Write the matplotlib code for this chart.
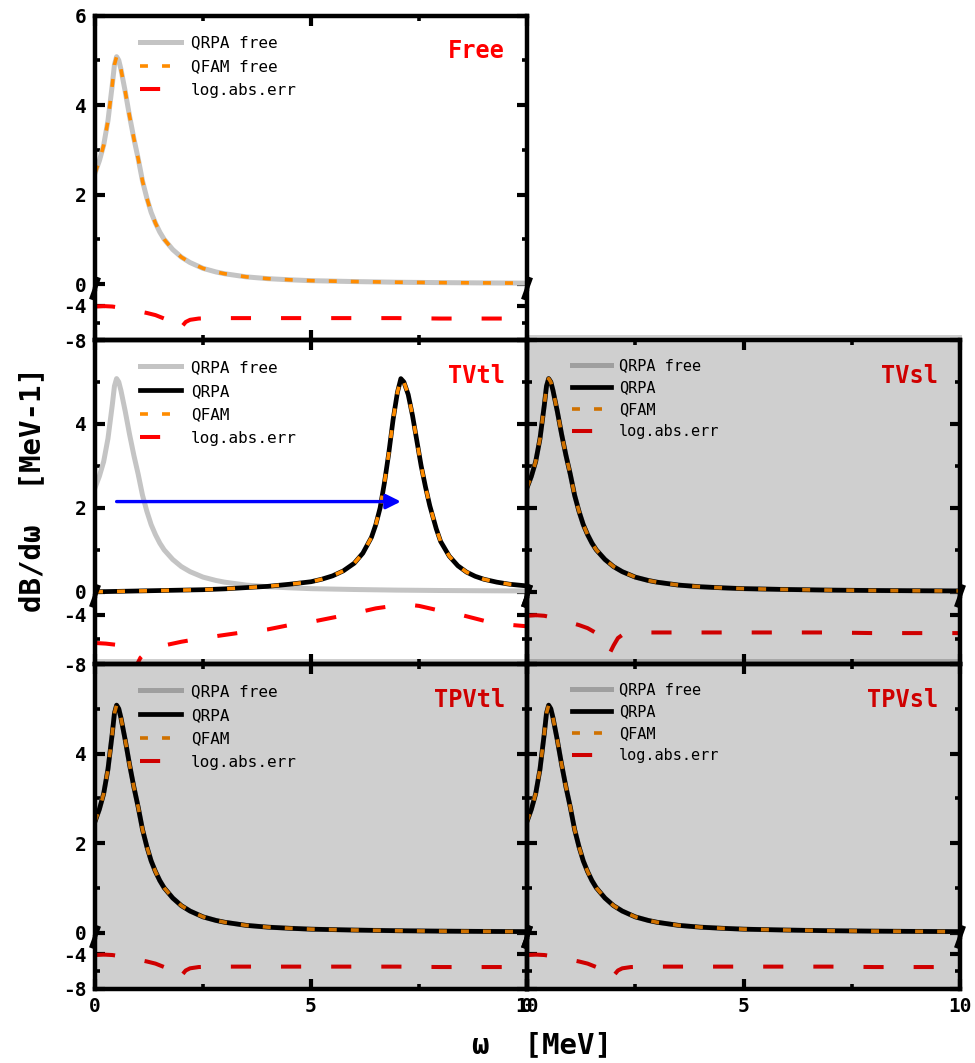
import matplotlib
matplotlib.use("Agg")
import matplotlib.pyplot as plt
from matplotlib.lines import Line2D
from matplotlib.patches import Rectangle

plt.rcParams["axes.unicode_minus"] = False
MONO = "DejaVu Sans Mono"

# ---------------- data ----------------
omega_free = [0.0, 0.1, 0.2, 0.3, 0.4, 0.45, 0.5, 0.55, 0.6, 0.7, 0.8, 0.9, 1.0,
              1.1, 1.2, 1.3, 1.4, 1.5, 1.6, 1.8, 2.0, 2.2, 2.5, 2.8, 3.0, 3.5,
              4.0, 4.5, 5.0, 6.0, 7.0, 8.0, 9.0, 10.0]
strength_free = [2.48, 2.75, 3.1, 3.65, 4.45, 4.9, 5.08, 5.0, 4.8, 4.3, 3.75, 3.25,
                 2.8, 2.3, 1.92, 1.6, 1.36, 1.16, 1.0, 0.77, 0.6, 0.48, 0.35, 0.27,
                 0.23, 0.16, 0.12, 0.095, 0.075, 0.055, 0.04, 0.031, 0.025, 0.02]

omega_tvtl = [0.0, 1.0, 2.0, 2.5, 3.0, 3.5, 4.0, 4.5, 5.0, 5.25, 5.5, 5.75, 6.0, 6.2,
              6.4, 6.5, 6.6, 6.7, 6.8, 6.9, 7.0, 7.08, 7.15, 7.25, 7.35, 7.45, 7.55,
              7.65, 7.75, 7.9, 8.0, 8.2, 8.4, 8.6, 8.8, 9.0, 9.3, 9.6, 10.0]
strength_tvtl = [0.0, 0.02, 0.04, 0.05, 0.07, 0.1, 0.13, 0.18, 0.24, 0.3, 0.38, 0.5,
                 0.68, 0.92, 1.3, 1.6, 2.0, 2.6, 3.3, 4.1, 4.75, 5.08, 5.0, 4.7, 4.2,
                 3.6, 3.0, 2.5, 2.05, 1.5, 1.2, 0.85, 0.62, 0.47, 0.37, 0.3, 0.23,
                 0.18, 0.14]

omega_err = [0.0, 0.2, 0.4, 0.6, 0.8, 1.0, 1.2, 1.4, 1.6, 1.8, 1.9, 2.0, 2.1, 2.2,
             2.4, 2.7, 3.0, 4.0, 5.0, 6.0, 7.0, 8.0, 9.0, 10.0]
logerr_free = [-4.1, -4.05, -4.1, -4.25, -4.45, -4.65, -4.85, -5.1, -5.5, -6.3,
               -7.2, -6.5, -5.9, -5.65, -5.5, -5.45, -5.45, -5.45, -5.45, -5.45,
               -5.45, -5.5, -5.5, -5.5]

omega_err_tvtl = [0.0, 0.25, 0.5, 0.7, 0.85, 0.95, 1.05, 1.2, 1.35, 1.6, 2.0, 2.5,
                  3.0, 3.5, 4.0, 4.5, 5.0, 5.5, 6.0, 6.5, 7.0, 7.25, 7.5, 8.0, 8.5,
                  9.0, 9.5, 10.0]
logerr_tvtl = [-6.3, -6.35, -6.45, -7.3, -8.6, -8.2, -7.5, -7.0, -6.7, -6.5, -6.2,
               -5.9, -5.65, -5.4, -5.2, -4.85, -4.6, -4.25, -3.9, -3.5, -3.25, -3.2,
               -3.3, -3.7, -4.05, -4.5, -4.8, -4.95]

panel_names = ["Free", "TVtl", "TVsl", "TPVtl", "TPVsl"]

# ---------------- layout (pixels) ----------------
W, H = 975, 1063
fig = plt.figure(figsize=(W / 100, H / 100), dpi=100)

COLS = {0: (95, 527), 1: (527, 960)}
# rows: (top, break, bottom, lower ylim top)
ROWS = {0: (15.5, 288.5, 340, -2.0), 1: (340, 596, 664, -2.5), 2: (664, 937, 988.5, -2.0)}

C_FREE = "#c4c4c4"
C_QFAM = "#ff8c00"
C_ERR = "#ff0000"
LW_SPINE = 3.2


def fig_rect(l, t, r, b):
    return [l / W, 1 - b / H, (r - l) / W, (b - t) / H]


def style(ax, top_ticks, bottom_ticks, xlabels, ylabels):
    for s in ax.spines.values():
        s.set_linewidth(LW_SPINE)
    ax.tick_params(which="both", direction="in", left=True, right=True,
                   top=top_ticks, bottom=bottom_ticks, labelbottom=xlabels,
                   labelleft=ylabels)
    ax.tick_params(which="major", length=7, width=3, pad=6)
    ax.tick_params(which="minor", length=3.5, width=2.6)
    ax.set_xlim(0, 10)
    ax.set_xticks([0, 5, 10])
    ax.set_xticks([2.5, 7.5], minor=True)
    for lab in ax.get_xticklabels() + ax.get_yticklabels():
        lab.set_fontfamily(MONO)
        lab.set_fontweight("bold")
        lab.set_fontsize(14)


def break_marks(l, r, yb):
    for x in (l, r):
        fig.add_artist(Line2D([(x + 4) / W, (x - 4) / W],
                              [1 - (yb - 11) / H, 1 - (yb + 11) / H],
                              transform=fig.transFigure, color="black",
                              lw=3, solid_capstyle="butt", zorder=5))


def panel(col, row, name, shaded):
    l, r = COLS[col]
    t, yb, b, lo_top = ROWS[row]
    ax_u = fig.add_axes(fig_rect(l, t, r, yb))
    ax_l = fig.add_axes(fig_rect(l, yb, r, b))
    ax_u.set_facecolor("none")
    ax_l.set_facecolor("none")
    ax_u.spines["bottom"].set_visible(False)
    ax_l.spines["top"].set_visible(False)

    ax_u.set_ylim(-0.1, 6)
    ax_u.set_yticks([0, 2, 4, 6])
    ax_u.set_yticks([1, 3, 5], minor=True)
    ax_u.set_yticklabels(["0", "2", "4", "6" if row == 0 else ""])
    ax_l.set_ylim(-8, lo_top)
    ax_l.set_yticks([-8, -4])
    ax_l.set_yticks([-6], minor=True)

    style(ax_u, True, False, False, col == 0)
    style(ax_l, False, True, row == 2, col == 0)

    handles = []
    if name == "Free":
        h1, = ax_u.plot(omega_free, strength_free, color=C_FREE, lw=3.6,
                        label="QRPA free")
        h2, = ax_u.plot(omega_free, strength_free, color=C_QFAM, lw=2.6,
                        dashes=(2.2, 3.9), label="QFAM free")
        h3, = ax_l.plot(omega_err, logerr_free, color=C_ERR, lw=2.9,
                        dashes=(5.0, 7.45), label="log.abs.err")
        handles = [h1, h2, h3]
    else:
        if name == "TVtl":
            xs, ys = omega_tvtl, strength_tvtl
            ex, ey = omega_err_tvtl, logerr_tvtl
        else:
            xs, ys = omega_free, strength_free
            ex, ey = omega_err, logerr_free
        h1, = ax_u.plot(omega_free, strength_free, color=C_FREE, lw=3.6,
                        label="QRPA free")
        h2, = ax_u.plot(xs, ys, color="black", lw=3.4, label="QRPA")
        h3, = ax_u.plot(xs, ys, color=C_QFAM, lw=2.6, dashes=(2.2, 3.9),
                        label="QFAM")
        h4, = ax_l.plot(ex, ey, color=C_ERR, lw=2.9, dashes=(5.0, 7.45),
                        label="log.abs.err")
        handles = [h1, h2, h3, h4]
        if name == "TVtl":
            peak_free = omega_free[strength_free.index(max(strength_free))]
            peak_tvtl = omega_tvtl[strength_tvtl.index(max(strength_tvtl))]
            ax_u.annotate("", xy=(peak_tvtl, 2.15), xytext=(peak_free, 2.15),
                          arrowprops=dict(arrowstyle="-|>", color="#0000ff",
                                          lw=2.4, mutation_scale=22,
                                          shrinkA=0, shrinkB=0))

    pw = r - l
    ph = yb - t
    if col == 0:
        leg_kw = dict(size=11.5, top=20, hl=2.55, tp=0.63, ls=0.54)
    else:
        leg_kw = dict(size=11, top=18, hl=2.55, tp=0.52, ls=0.46)
    ax_u.legend(handles=handles, loc="upper left",
                bbox_to_anchor=(45 / pw, 1 - leg_kw["top"] / ph), frameon=False,
                borderpad=0, borderaxespad=0, handlelength=leg_kw["hl"],
                handletextpad=leg_kw["tp"], labelspacing=leg_kw["ls"],
                prop=dict(family=MONO, size=leg_kw["size"]))
    ax_u.text(1 - 22 / pw, 1 - 24 / ph, name, transform=ax_u.transAxes,
              ha="right", va="top", color="#ff0000", fontsize=17,
              fontweight="bold", fontfamily=MONO)

    break_marks(l, r, yb)

    if shaded:
        fig.add_artist(Rectangle(((l - 2) / W, 1 - (b + 1) / H),
                                 (r - l + 4) / W, (b - t + 6) / H,
                                 transform=fig.transFigure, facecolor="black",
                                 edgecolor="none", alpha=0.19, zorder=10))


panel(0, 0, "Free", False)
panel(0, 1, "TVtl", False)
panel(1, 1, "TVsl", True)
panel(0, 2, "TPVtl", True)
panel(1, 2, "TPVsl", True)

fig.text(542 / W, 1 - 1045 / H, "ω  [MeV]", ha="center", va="center",
         fontsize=21, fontweight="bold", fontfamily=MONO)
fig.text(32 / W, 1 - 489 / H, "dB/dω  [MeV-1]", ha="center", va="center",
         rotation=90, fontsize=21, fontweight="bold", fontfamily=MONO)

fig.savefig("out.png", dpi=100)
